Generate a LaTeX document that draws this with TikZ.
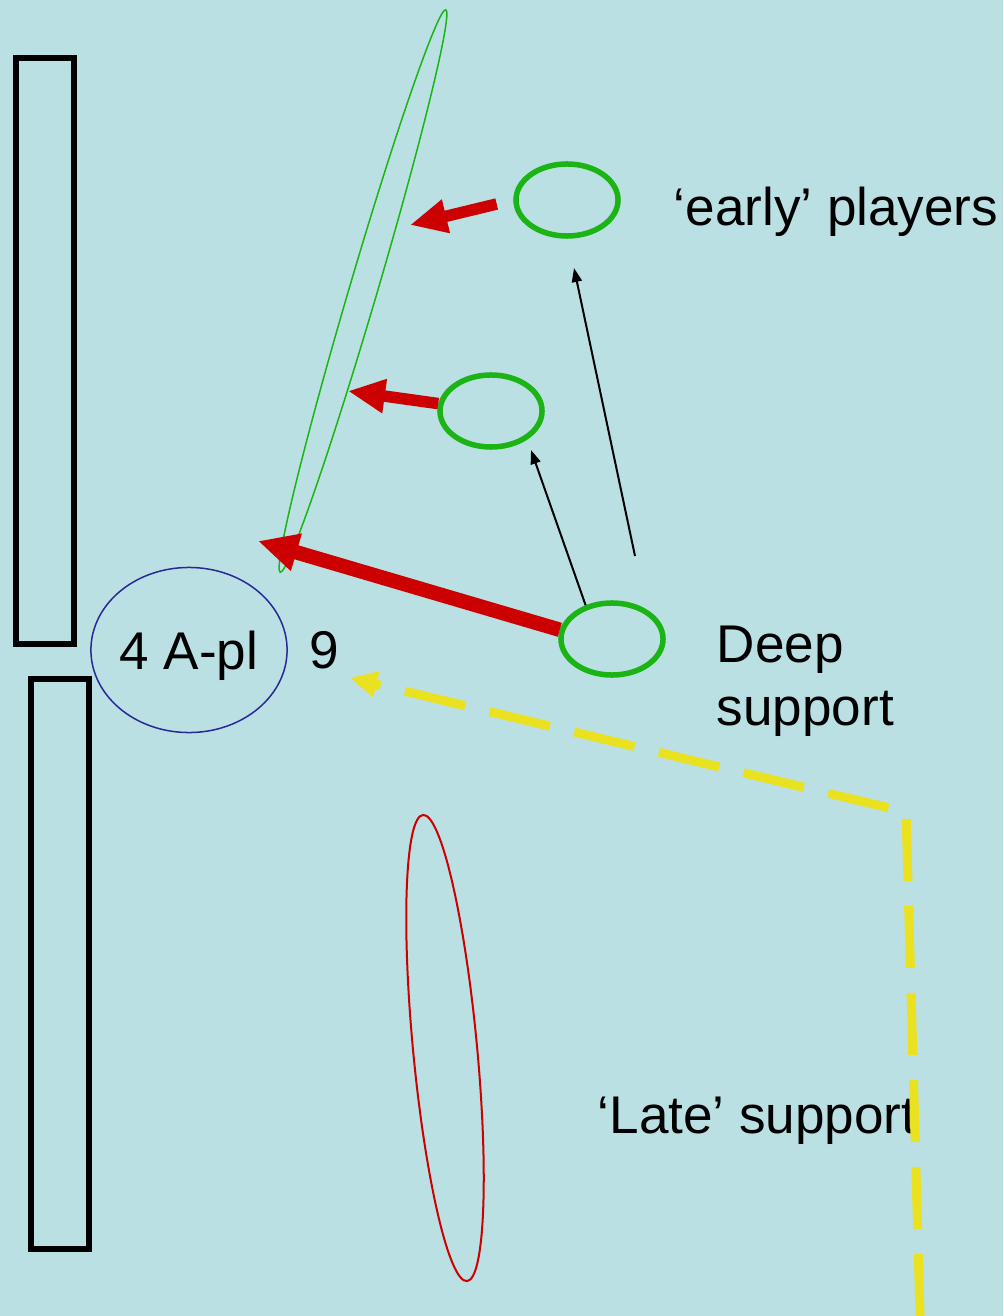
\documentclass[tikz,border=0pt]{standalone}
\usepackage{fontspec}
\setmainfont{Liberation Sans}
\usepackage{xcolor}
\usetikzlibrary{shapes.geometric,arrows.meta,positioning}

\definecolor{pitch}{RGB}{186,224,227}
\definecolor{plgreen}{RGB}{28,180,20}
\definecolor{runred}{RGB}{204,0,0}
\definecolor{lateyellow}{RGB}{234,226,32}
\definecolor{apblue}{RGB}{40,40,150}

\begin{document}
\begin{tikzpicture}[
    x=0.01cm,y=-0.01cm,
    player/.style={ellipse,draw=plgreen,line width=0.055cm,inner sep=0pt,
                   minimum width=1.02cm,minimum height=0.72cm},
    zone/.style={ellipse,draw,inner sep=0pt},
    post/.style={draw=black,line width=0.055cm},
    runarr/.style={-{Triangle[length=0.37cm,width=0.32cm]},draw=runred,line width=0.115cm},
    passarr/.style={-{Triangle[length=0.14cm,width=0.1cm]},draw=black,line width=0.02cm},
    latearr/.style={-{Triangle[length=0.27cm,width=0.25cm]},draw=lateyellow,line width=0.09cm,
                    dash pattern=on 0.62cm off 0.25cm},
    lbl/.style={font=\fontsize{15.1}{17.9}\selectfont,inner sep=0pt}
]
\useasboundingbox (0,0) rectangle (1003,1316);
\fill[pitch] (0,0) rectangle (1003,1316);

% goal posts
\draw[post] (16,58) rectangle (74,644);
\draw[post] (31,679) rectangle (89,1249);

% A-pl and zones
\node[zone,lbl,draw=apblue,line width=0.015cm,minimum width=1.95cm,minimum height=1.65cm,
      text height=0.38cm,text depth=0pt] (apl) at (189,650) {4 A-pl};
\node[lbl,anchor=base west] (nine) at (309,668) {9};
\node[zone,draw=plgreen,line width=0.015cm,minimum width=5.86cm,minimum height=0.28cm,
      rotate=73.6] (frontline) at (363,291) {};
\node[zone,draw=runred,line width=0.02cm,minimum width=4.68cm,minimum height=0.64cm,
      rotate=95.4] (lateline) at (445,1048) {};

% support players
\node[player] (early) at (567,200) {};
\node[player] (second) at (491,411) {};
\node[player] (deep) at (612,639) {};

\coordinate (t1) at (410,225);
\coordinate (t2) at (348,391);
\coordinate (t3) at (258,541);
\coordinate (p1a) at (635,556);
\coordinate (p1b) at (574,268);
\coordinate (p2b) at (531,450);
\coordinate (ybot) at (920,1316);
\coordinate (ybend) at (906,812);
\coordinate (ytip) at (350,678);

\draw[runarr,shorten <=0.17cm] (early.west) -- (t1);
\draw[runarr] (second.172) -- (t2);
\draw[runarr,line width=0.145cm,-{Triangle[length=0.4cm,width=0.36cm]}] (deep.170) -- (t3);
\draw[passarr] (p1a) -- (p1b);
\draw[passarr] (deep.128) -- (p2b);

\node[lbl,anchor=base west] (earlylbl) at (673,226) {‘early’ players};
\node[lbl,anchor=west,align=left] (deeplbl) at (716,681) {Deep\\support};
\node[lbl,anchor=base west] (latelbl) at (597,1133) {‘Late’ support};

% late run
\draw[latearr] (ybot) -- (ybend) -- (ytip);
\end{tikzpicture}
\end{document}
